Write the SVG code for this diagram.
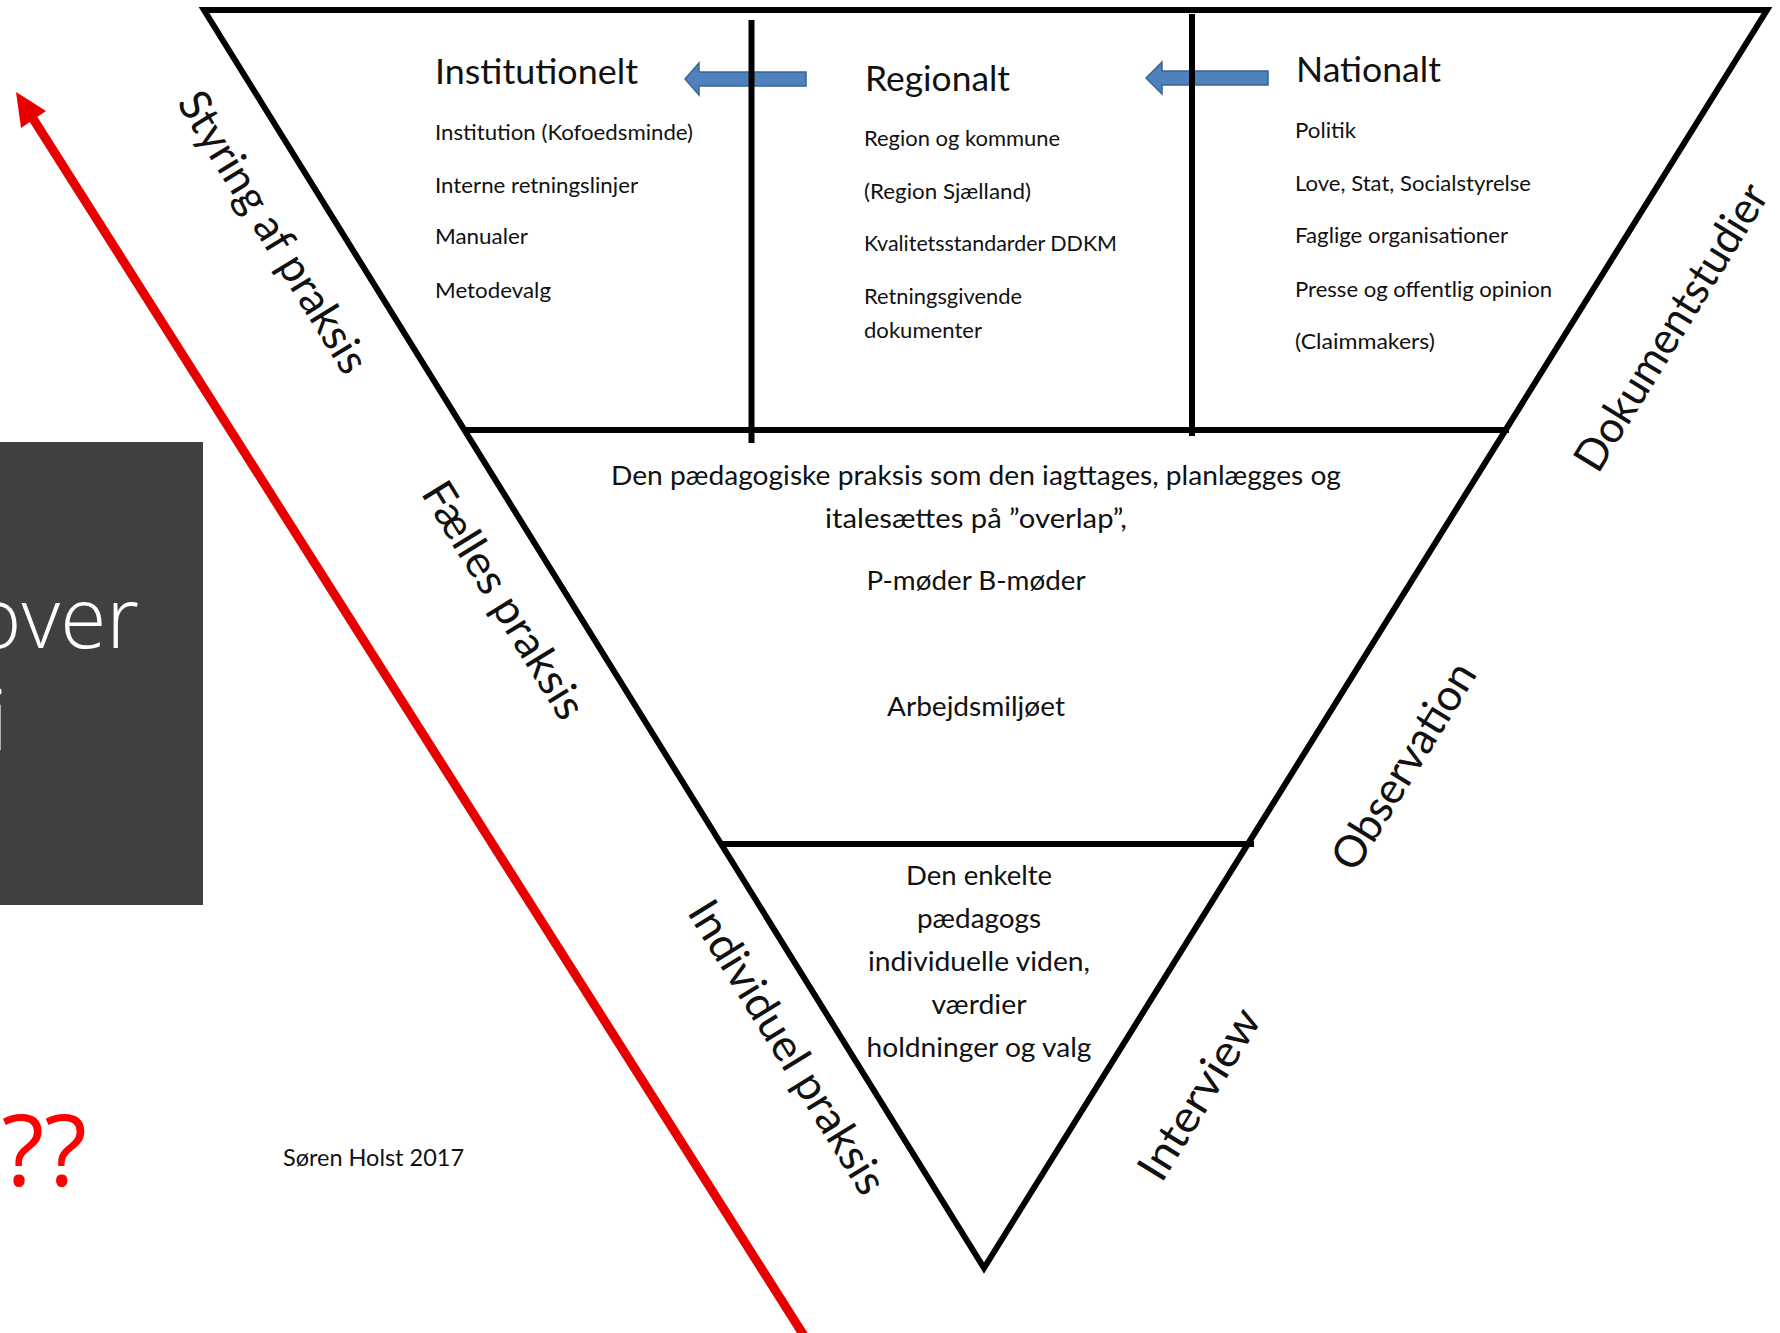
<svg xmlns="http://www.w3.org/2000/svg" width="1780" height="1333" viewBox="0 0 1780 1333">
  <defs>
    <style>
      .t { font-family: Lato, "Liberation Sans", sans-serif; fill: #111; }
      .head { font-size: 35px; }
      .item { font-size: 22px; }
      .mid { font-size: 27.5px; text-anchor: middle; }
      .lbl { font-size: 44px; text-anchor: middle; }
      .edge { fill: none; stroke: #000; stroke-width: 6; stroke-linejoin: miter; }
      .div { stroke: #000; stroke-width: 6; }
      .blue { fill: #4F81BD; stroke: #3A6396; stroke-width: 1.5; }
      .slide { font-family: "Open Sans", "Noto Sans", sans-serif; }
    </style>
  </defs>
  <rect width="1780" height="1333" fill="#fff"/>

  <g id="slide-box">
    <rect x="0" y="442" width="203" height="463" fill="#404040"/>
    <text class="slide" x="139" y="648" font-size="84" font-weight="300" fill="#fff" text-anchor="end">over</text>
    <text class="slide" x="8" y="750" font-size="84" font-weight="300" fill="#fff" text-anchor="end">i</text>
  </g>
  <g id="question">
    <text class="slide" x="87" y="1186" font-size="99" fill="#FF0000" text-anchor="end">??</text>
  </g>

  <g id="connectors">
    <g id="blue-arrows">
      <polygon class="blue" points="685,79 699,63 699,72 806,72 806,86 699,86 699,95"/>
      <polygon class="blue" points="1146,78 1162,62 1162,71 1268,71 1268,85 1162,85 1162,94"/>
    </g>
    <g id="red-arrow">
      <line x1="32" y1="117" x2="808" y2="1342" stroke="#E80000" stroke-width="9"/>
      <polygon points="16,92 21,128 46,111" fill="#E80000"/>
    </g>
  </g>

  <g id="triangle">
    <polygon class="edge" points="204,10 1767,10 984,1268"/>
    <line class="div" x1="463" y1="430" x2="1509" y2="430"/>
    <line class="div" x1="719" y1="844" x2="1254" y2="844"/>
    <line class="div" x1="751.5" y1="20" x2="751.5" y2="443"/>
    <line class="div" x1="1192" y1="14" x2="1192" y2="436"/>
  </g>

  <g id="institutionelt">
    <text class="t head" x="435" y="84" textLength="203" lengthAdjust="spacingAndGlyphs">Institutionelt</text>
    <text class="t item" x="435" y="140" textLength="258" lengthAdjust="spacingAndGlyphs">Institution (Kofoedsminde)</text>
    <text class="t item" x="435" y="193" textLength="203" lengthAdjust="spacingAndGlyphs">Interne retningslinjer</text>
    <text class="t item" x="435" y="244" textLength="93" lengthAdjust="spacingAndGlyphs">Manualer</text>
    <text class="t item" x="435" y="298" textLength="116" lengthAdjust="spacingAndGlyphs">Metodevalg</text>
  </g>

  <g id="regionalt">
    <text class="t head" x="865" y="91" textLength="145" lengthAdjust="spacingAndGlyphs">Regionalt</text>
    <text class="t item" x="864" y="146" textLength="196" lengthAdjust="spacingAndGlyphs">Region og kommune</text>
    <text class="t item" x="864" y="199" textLength="167" lengthAdjust="spacingAndGlyphs">(Region Sjælland)</text>
    <text class="t item" x="864" y="251" textLength="253" lengthAdjust="spacingAndGlyphs">Kvalitetsstandarder DDKM</text>
    <text class="t item" x="864" y="304" textLength="158" lengthAdjust="spacingAndGlyphs">Retningsgivende</text>
    <text class="t item" x="864" y="338" textLength="118" lengthAdjust="spacingAndGlyphs">dokumenter</text>
  </g>

  <g id="nationalt">
    <text class="t head" x="1296" y="82" textLength="145" lengthAdjust="spacingAndGlyphs">Nationalt</text>
    <text class="t item" x="1295" y="138" textLength="61" lengthAdjust="spacingAndGlyphs">Politik</text>
    <text class="t item" x="1295" y="191" textLength="236" lengthAdjust="spacingAndGlyphs">Love, Stat, Socialstyrelse</text>
    <text class="t item" x="1295" y="243" textLength="213" lengthAdjust="spacingAndGlyphs">Faglige organisationer</text>
    <text class="t item" x="1295" y="297" textLength="257" lengthAdjust="spacingAndGlyphs">Presse og offentlig opinion</text>
    <text class="t item" x="1295" y="349" textLength="140" lengthAdjust="spacingAndGlyphs">(Claimmakers)</text>
  </g>

  <g id="faelles-niveau">
    <text class="t mid" x="976" y="485" textLength="730" lengthAdjust="spacingAndGlyphs">Den pædagogiske praksis som den iagttages, planlægges og</text>
    <text class="t mid" x="976" y="528" textLength="302" lengthAdjust="spacingAndGlyphs">italesættes på ”overlap”,</text>
    <text class="t mid" x="976" y="590" textLength="219" lengthAdjust="spacingAndGlyphs">P-møder B-møder</text>
    <text class="t mid" x="976" y="716" textLength="178" lengthAdjust="spacingAndGlyphs">Arbejdsmiljøet</text>
  </g>

  <g id="individuel-niveau">
    <text class="t mid" x="979" y="885" textLength="146" lengthAdjust="spacingAndGlyphs">Den enkelte</text>
    <text class="t mid" x="979" y="928" textLength="124" lengthAdjust="spacingAndGlyphs">pædagogs</text>
    <text class="t mid" x="979" y="971" textLength="222" lengthAdjust="spacingAndGlyphs">individuelle viden,</text>
    <text class="t mid" x="979" y="1014" textLength="95" lengthAdjust="spacingAndGlyphs">værdier</text>
    <text class="t mid" x="979" y="1057" textLength="225" lengthAdjust="spacingAndGlyphs">holdninger og valg</text>
  </g>

  <g id="left-labels">
    <text class="t lbl" transform="translate(260.5,240) rotate(58.4)" textLength="322" lengthAdjust="spacingAndGlyphs">Styring af praksis</text>
    <text class="t lbl" transform="translate(491,608) rotate(58.4)" textLength="270" lengthAdjust="spacingAndGlyphs">Fælles praksis</text>
    <text class="t lbl" transform="translate(774.5,1055) rotate(58.4)" textLength="336" lengthAdjust="spacingAndGlyphs">Individuel praksis</text>
  </g>

  <g id="right-labels">
    <text class="t lbl" transform="translate(1684,335) rotate(-58.4)" textLength="328" lengthAdjust="spacingAndGlyphs">Dokumentstudier</text>
    <text class="t lbl" transform="translate(1416.5,774) rotate(-58.4)" textLength="235" lengthAdjust="spacingAndGlyphs">Observation</text>
    <text class="t lbl" transform="translate(1212,1102) rotate(-58.4)" textLength="193" lengthAdjust="spacingAndGlyphs">Interview</text>
  </g>

  <g id="credit">
    <text class="t" x="283" y="1166" font-size="22.5" textLength="181" lengthAdjust="spacingAndGlyphs">Søren Holst 2017</text>
  </g>
</svg>
